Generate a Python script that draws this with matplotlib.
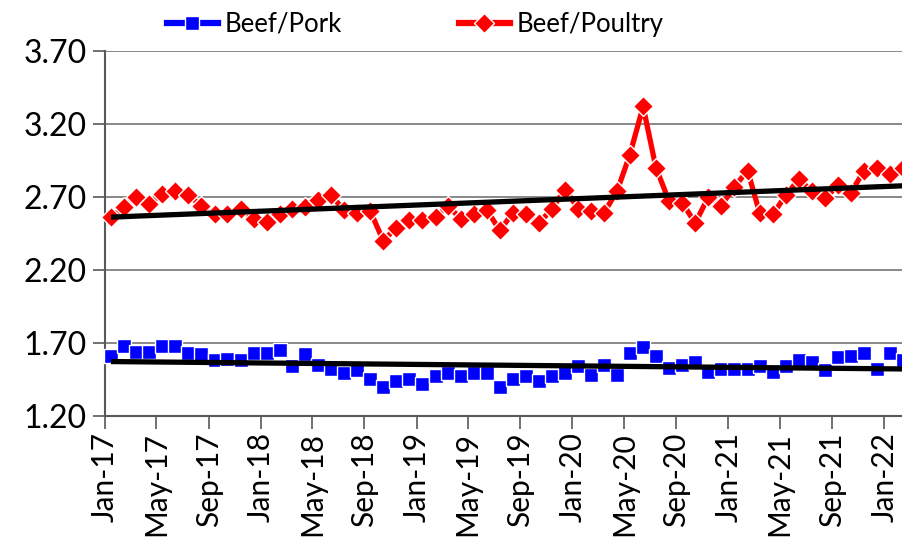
import numpy as np
import pandas as pd
import matplotlib
matplotlib.use('Agg')
import matplotlib.pyplot as plt
import matplotlib.dates as mdates
from matplotlib.lines import Line2D

plt.rcParams['font.family'] = ['Lato', 'DejaVu Sans']

# monthly observations, Jan-2017 .. Feb-2022 (plotted mid-month)
dates = pd.date_range('2017-01-01', periods=62, freq='MS') + pd.Timedelta(days=14)

beef_poultry = [2.56, 2.63, 2.70, 2.65, 2.72, 2.74, 2.71, 2.64, 2.58, 2.58,
                2.62, 2.55, 2.53, 2.58, 2.62, 2.63, 2.68, 2.71, 2.61, 2.59,
                2.60, 2.40, 2.49, 2.54, 2.54, 2.56, 2.64, 2.55, 2.58, 2.61,
                2.47, 2.59, 2.58, 2.52, 2.62, 2.75, 2.62, 2.60, 2.59, 2.74,
                2.99, 3.32, 2.90, 2.67, 2.66, 2.52, 2.70, 2.64, 2.77, 2.88,
                2.59, 2.58, 2.71, 2.82, 2.74, 2.69, 2.78, 2.73, 2.88, 2.90,
                2.86, 2.90]

beef_pork = [1.61, 1.68, 1.64, 1.64, 1.68, 1.68, 1.63, 1.62, 1.58, 1.59,
             1.58, 1.63, 1.63, 1.65, 1.54, 1.62, 1.55, 1.52, 1.49, 1.51,
             1.45, 1.40, 1.44, 1.45, 1.42, 1.47, 1.49, 1.47, 1.49, 1.49,
             1.40, 1.45, 1.47, 1.44, 1.47, 1.49, 1.54, 1.48, 1.55, 1.48,
             1.63, 1.67, 1.61, 1.53, 1.55, 1.57, 1.50, 1.52, 1.52, 1.52,
             1.54, 1.50, 1.54, 1.58, 1.57, 1.51, 1.60, 1.61, 1.63, 1.52,
             1.63, 1.58]

fig = plt.figure(figsize=(9.03, 5.39), dpi=100)
ax = fig.add_axes([105/903, 1 - 415.7/539, 1 - 105/903, (415.7 - 51)/539])

# linear trend lines
t = np.arange(len(dates))
for vals in (beef_poultry, beef_pork):
    k, b = np.polyfit(t, vals, 1)
    ax.plot(dates, k * t + b, color='black', lw=3.8, zorder=4, clip_on=False,
            solid_capstyle='butt')

ax.plot(dates, beef_poultry, color='red', lw=3.8, marker='D', ms=10.5,
        mec='white', mew=1, zorder=3, clip_on=False)
ax.plot(dates, beef_pork, color='blue', ls='none', marker='s', ms=10.5,
        mec='white', mew=1, zorder=3, clip_on=False)

ax.set_ylim(1.20, 3.70)
ax.set_yticks(np.arange(1.20, 3.71, 0.50))
ax.yaxis.set_major_formatter(matplotlib.ticker.FormatStrFormatter('%.2f'))
ax.set_xlim(pd.Timestamp('2017-01-01'), pd.Timestamp('2022-02-14'))
ax.xaxis.set_major_locator(mdates.MonthLocator(bymonth=[1, 5, 9]))
ax.xaxis.set_major_formatter(mdates.DateFormatter('%b-%y'))

ax.grid(axis='y', color='#7f7f7f', lw=1.3)
ax.set_axisbelow(True)
for s in ('top', 'right'):
    ax.spines[s].set_visible(False)
for s in ('left', 'bottom'):
    ax.spines[s].set_color('#595959')
    ax.spines[s].set_linewidth(1.5)
ax.tick_params(axis='both', length=9, width=1.2, color='#595959')
ax.tick_params(axis='y', labelsize=23, pad=4)
ax.tick_params(axis='x', labelsize=21.5, pad=3, labelrotation=90)

handles = [
    Line2D([], [], color='blue', lw=4.5, marker='s', ms=10.5, mec='white', mew=1),
    Line2D([], [], color='red', lw=4.5, marker='D', ms=10.5, mec='white', mew=1),
]
fig.legend(handles, ['Beef/Pork', 'Beef/Poultry'], loc='center',
           bbox_to_anchor=(415/903, 1 - 24/539), ncol=2, frameon=False,
           fontsize=18.5, handlelength=2.0, handletextpad=0.25, columnspacing=4.55)

fig.savefig('out.png', dpi=100)
